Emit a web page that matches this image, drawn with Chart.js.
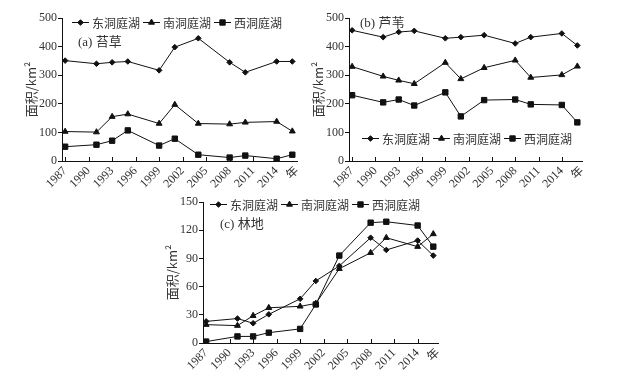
<!DOCTYPE html>
<html>
<head>
<meta charset="utf-8">
<script src="https://cdn.jsdelivr.net/npm/chart.js@4/dist/chart.umd.min.js"></script>
<style>
  body { margin: 0; background: #fff; }
  #wrap { position: relative; width: 644px; height: 378px; }
  #wrap canvas { position: absolute; left: 0; top: 0; }
</style>
</head>
<body>
<div id="wrap">
  <canvas id="sedgeChart" width="644" height="378"></canvas>
  <canvas id="reedChart" width="644" height="378"></canvas>
  <canvas id="forestChart" width="644" height="378"></canvas>
</div>
<script>
// years of each survey and tick labels on the x axis
const years = [1987, 1991, 1993, 1995, 1999, 2001, 2004, 2008, 2010, 2014, 2016];
const tickYears = [1987, 1990, 1993, 1996, 1999, 2002, 2005, 2008, 2011, 2014];
const yearUnit = '年';
const lakeNames = ['东洞庭湖', '南洞庭湖', '西洞庭湖'];

// (a) 苔草
const sedgeEast = [351, 340, 345, 348, 317, 398, 429, 345, 310, 348, 348];
const sedgeSouth = [103, 101, 155, 164, 131, 197, 131, 129, 135, 138, 104];
const sedgeWest = [50, 57, 71, 107, 54, 78, 22, 12, 19, 8, 22];

// (b) 芦苇
const reedEast = [457, 433, 451, 455, 429, 433, 440, 411, 433, 446, 404];
const reedSouth = [330, 296, 282, 270, 344, 287, 326, 352, 292, 301, 331];
const reedWest = [230, 205, 215, 194, 240, 156, 213, 215, 198, 196, 135];

// (c) 林地
const forestEast = [23, 26, 21, 30.5, 47, 66, 82, 112, 99, 109, 93];
const forestSouth = [19.5, 18.5, 29, 37.5, 39, 42, 79, 96, 112, 102.5, 116];
const forestWest = [1.5, 7, 7, 11, 15, 41, 93, 128, 129, 125, 102.5];

const yTitle = '面积/km²';
const textColor = '#333';
const lineColor = '#111';
const numFont = "'Liberation Serif', 'Noto Sans CJK SC', serif";
const cjkFont = "'Noto Sans CJK SC', 'Liberation Serif', sans-serif";

// marker style of each lake (diamond / triangle / square)
const markers = [
    { pointStyle: 'rectRot', pointRadius: 2.8 },
    { pointStyle: 'triangle', pointRadius: 3.4 },
    { pointStyle: 'rect', pointRadius: 3.8 }
];

function makeDataset(idx, values) {
    return {
        label: lakeNames[idx],
        data: values.map((v, i) => ({ x: years[i], y: v })),
        borderColor: lineColor,
        borderWidth: 1,
        pointBackgroundColor: lineColor,
        pointBorderColor: lineColor,
        pointBorderWidth: 1,
        pointStyle: markers[idx].pointStyle,
        pointRadius: markers[idx].pointRadius,
        tension: 0
    };
}

/**
 * draws the legend ("-◆- 东洞庭湖" ...), the panel caption and
 * the short x ticks that point into the plot
 */
const panelDecor = {
    id: 'panelDecor',
    afterDraw(chart, args, opts) {
        const ctx = chart.ctx;
        const xs = chart.scales.x;
        const bottom = chart.chartArea.bottom;
        ctx.save();

        // inward tick marks
        ctx.strokeStyle = lineColor;
        ctx.lineWidth = 1;
        xs.ticks.forEach(t => {
            if (t.value === xs.max) return;
            const px = Math.round(xs.getPixelForValue(t.value)) + 0.5;
            ctx.beginPath();
            ctx.moveTo(px, bottom);
            ctx.lineTo(px, bottom - 4);
            ctx.stroke();
        });

        // legend
        let x = opts.legendX;
        const y = opts.legendY;
        ctx.font = '12px ' + cjkFont;
        ctx.textBaseline = 'middle';
        chart.data.datasets.forEach(ds => {
            ctx.strokeStyle = lineColor;
            ctx.beginPath();
            ctx.moveTo(x, y + 0.5);
            ctx.lineTo(x + 17, y + 0.5);
            ctx.stroke();
            ctx.fillStyle = lineColor;
            Chart.helpers.drawPoint(ctx, {
                pointStyle: ds.pointStyle,
                radius: ds.pointRadius,
                rotation: 0,
                borderWidth: 1
            }, x + 8.5, y + 0.5);
            ctx.fillStyle = textColor;
            ctx.fillText(ds.label, x + 20, y + 1);
            x += 20 + ctx.measureText(ds.label).width + 3;
        });

        // panel caption, e.g. "(a) 苔草"
        ctx.font = '13px ' + numFont;
        ctx.fillStyle = textColor;
        ctx.fillText(opts.caption, opts.captionX, opts.captionY);
        ctx.restore();
    }
};

function renderPanel(canvasId, datasets, yMax, yStep, box, decor) {
    const ctx = document.getElementById(canvasId).getContext('2d');
    return new Chart(ctx, {
        type: 'line',
        data: { datasets: datasets },
        plugins: [panelDecor],
        options: {
            responsive: false,
            animation: false,
            events: [],
            layout: {
                padding: {
                    left: box.left - 44,
                    top: box.top,
                    right: 644 - box.right,
                    bottom: 378 - box.bottom - 30
                }
            },
            plugins: {
                legend: { display: false },
                tooltip: { enabled: false },
                panelDecor: decor
            },
            scales: {
                x: {
                    type: 'linear',
                    min: 1986.6,
                    max: 2016.6,
                    afterFit: s => { s.height = 30; },
                    afterBuildTicks: s => {
                        s.ticks = tickYears.map(v => ({ value: v })).concat([{ value: s.max }]);
                    },
                    grid: { display: false, drawTicks: false },
                    border: { display: true, color: lineColor, width: 1 },
                    ticks: {
                        autoSkip: false,
                        minRotation: 45,
                        maxRotation: 45,
                        padding: 3,
                        color: textColor,
                        font: { family: numFont, size: 12 },
                        callback: function(v) {
                            return v === this.max ? yearUnit : String(v);
                        }
                    }
                },
                y: {
                    min: 0,
                    max: yMax,
                    afterFit: s => { s.width = 44; },
                    grid: {
                        drawOnChartArea: false,
                        drawTicks: true,
                        tickLength: 4,
                        color: lineColor
                    },
                    border: { display: true, color: lineColor, width: 1 },
                    ticks: {
                        stepSize: yStep,
                        padding: 1,
                        color: textColor,
                        font: { family: numFont, size: 12 }
                    },
                    title: {
                        display: true,
                        text: yTitle,
                        color: textColor,
                        padding: { top: 5, bottom: 0 },
                        font: { family: cjkFont, size: 13 }
                    }
                }
            }
        }
    });
}

renderPanel('sedgeChart',
    [makeDataset(0, sedgeEast), makeDataset(1, sedgeSouth), makeDataset(2, sedgeWest)],
    500, 100,
    { left: 62, top: 18, right: 297, bottom: 161 },
    { legendX: 72, legendY: 22, caption: '(a) 苔草', captionX: 78, captionY: 43 });

renderPanel('reedChart',
    [makeDataset(0, reedEast), makeDataset(1, reedSouth), makeDataset(2, reedWest)],
    500, 100,
    { left: 349, top: 18, right: 582, bottom: 161 },
    { legendX: 362, legendY: 138, caption: '(b) 芦苇', captionX: 360, captionY: 24 });

renderPanel('forestChart',
    [makeDataset(0, forestEast), makeDataset(1, forestSouth), makeDataset(2, forestWest)],
    150, 30,
    { left: 203, top: 202, right: 438, bottom: 343 },
    { legendX: 210, legendY: 204, caption: '(c) 林地', captionX: 220, captionY: 225 });
</script>
</body>
</html>
